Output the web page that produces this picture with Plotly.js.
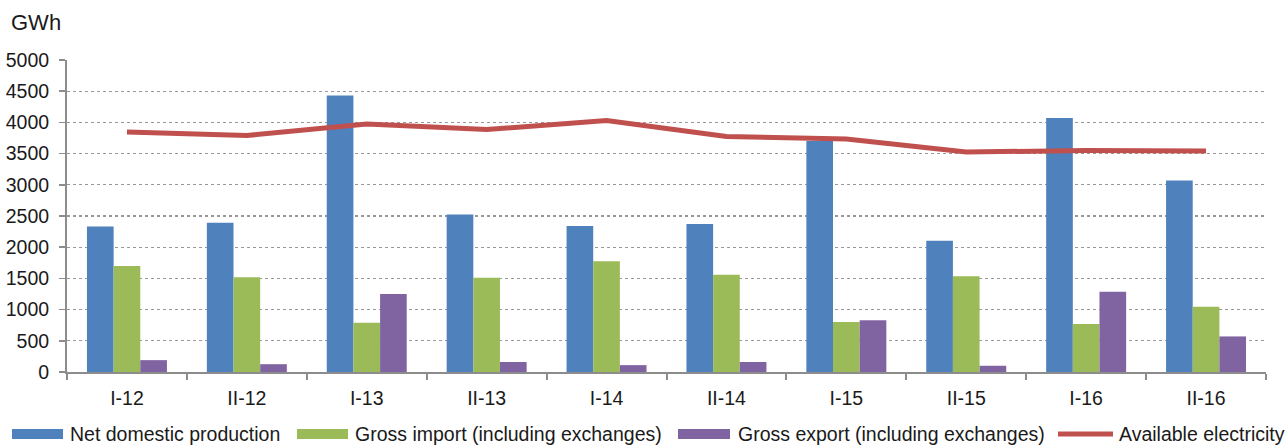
<!DOCTYPE html>
<html>
<head>
<meta charset="utf-8">
<script src="https://cdn.plot.ly/plotly-3.0.1.min.js"></script>
<style>html,body{margin:0;padding:0;background:#fff;}#chart{width:1287px;height:446px;}</style>
</head>
<body>
<div id="chart"></div>
<script>
const categories = ["I-12","II-12","I-13","II-13","I-14","II-14","I-15","II-15","I-16","II-16"];
const netProduction = [2330, 2390, 4430, 2525, 2340, 2370, 3700, 2105, 4070, 3070];
const grossImport = [1700, 1520, 790, 1510, 1775, 1560, 800, 1535, 770, 1045];
const grossExport = [190, 125, 1250, 160, 110, 160, 830, 100, 1285, 570];
const availableElectricity = [3845, 3790, 3975, 3885, 4030, 3775, 3735, 3525, 3550, 3540];
const yTicks = [0, 500, 1000, 1500, 2000, 2500, 3000, 3500, 4000, 4500, 5000];
const seriesNames = ["Net domestic production", "Gross import (including exchanges)",
                     "Gross export (including exchanges)", "Available electricity"];
const seriesColors = ["#4F81BD", "#9BBB59", "#8064A2", "#C0504D"];

const FONT = "Liberation Sans, Arial, sans-serif";
const W = 1287, H = 446, M = {l:67, r:21, t:60, b:74};
const PW = W - M.l - M.r, PH = H - M.t - M.b;
const px2x = p => (p - M.l) / PW;
const py2y = p => (H - M.b - p) / PH;

const traces = [
  {type:"bar", name:seriesNames[0], x:categories, y:netProduction, marker:{color:seriesColors[0]}},
  {type:"bar", name:seriesNames[1], x:categories, y:grossImport, marker:{color:seriesColors[1]}},
  {type:"bar", name:seriesNames[2], x:categories, y:grossExport, marker:{color:seriesColors[2]}},
  {type:"scatter", mode:"lines", name:seriesNames[3], x:categories, y:availableElectricity,
   line:{color:seriesColors[3], width:5}}
];

// legend layout (pixel positions of swatches and labels)
const legendSwatch = [[12,63],[297,348],[678,730],[1058,1113]];
const legendTextX = [68, 353, 736, 1117];
const legendY = 434;
const shapes = [], annotations = [];
for (let i = 0; i < 4; i++) {
  if (i < 3) {
    shapes.push({type:"rect", xref:"paper", yref:"paper",
      x0:px2x(legendSwatch[i][0]), x1:px2x(legendSwatch[i][1]),
      y0:py2y(legendY+5), y1:py2y(legendY-5),
      fillcolor:seriesColors[i], line:{width:0}});
  } else {
    shapes.push({type:"line", xref:"paper", yref:"paper",
      x0:px2x(legendSwatch[i][0]), x1:px2x(legendSwatch[i][1]),
      y0:py2y(legendY), y1:py2y(legendY),
      line:{color:seriesColors[i], width:5}});
  }
  annotations.push({text:seriesNames[i], xref:"paper", yref:"paper",
    x:px2x(legendTextX[i]), y:py2y(legendY), xanchor:"left", yanchor:"middle",
    showarrow:false, font:{family:FONT, size:19.5, color:"#1a1a1a"}});
}
annotations.push({text:"GWh", xref:"paper", yref:"paper", x:px2x(9), y:py2y(22),
  xanchor:"left", yanchor:"middle", showarrow:false,
  font:{family:FONT, size:22, color:"#1a1a1a"}});

const layout = {
  width:W, height:H,
  margin:M,
  paper_bgcolor:"#fff", plot_bgcolor:"#fff",
  font:{family:FONT, size:18, color:"#1a1a1a"},
  barmode:"group", bargap:0.333, bargroupgap:0,
  showlegend:false,
  xaxis:{type:"category", showgrid:false, showline:true, linecolor:"#8c8c8c", linewidth:2,
         ticks:"outside", tickson:"boundaries", ticklen:6, tickcolor:"#8c8c8c", tickwidth:2,
         ticklabelstandoff:8,
         tickfont:{family:FONT, size:19.5, color:"#1a1a1a"}, zeroline:false},
  yaxis:{range:[0,5000], tickmode:"array", tickvals:yTicks, ticktext:yTicks.map(String),
         showgrid:true, gridcolor:"#999999", griddash:"dot", gridwidth:1.2,
         showline:true, linecolor:"#8c8c8c", linewidth:2,
         ticks:"outside", ticklen:6, tickcolor:"#8c8c8c", tickwidth:1.5,
         ticklabelstandoff:6,
         tickfont:{family:FONT, size:19.5, color:"#1a1a1a"}, zeroline:false},
  shapes:shapes,
  annotations:annotations
};
Plotly.newPlot("chart", traces, layout, {displayModeBar:false, staticPlot:true});
</script>
</body>
</html>
